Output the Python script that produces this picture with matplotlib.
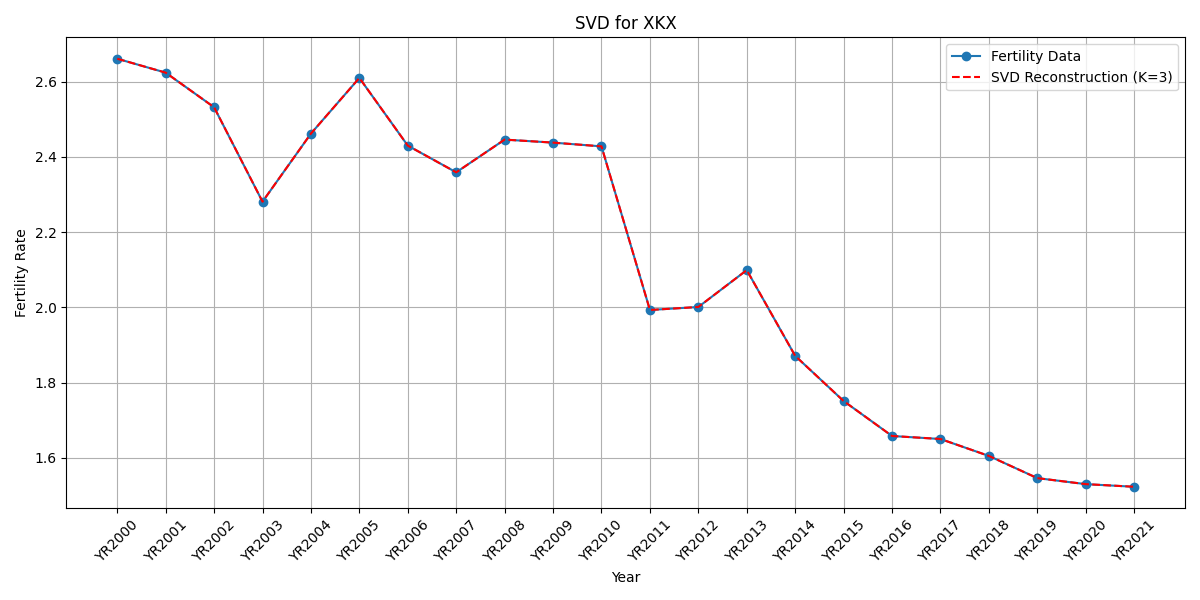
import matplotlib
matplotlib.use('Agg')
import matplotlib.pyplot as plt

years = [f"YR{y}" for y in range(2000, 2022)]
fertility = [2.661, 2.624, 2.532, 2.281, 2.462, 2.610, 2.430, 2.359, 2.446, 2.438, 2.428,
             1.993, 2.001, 2.099, 1.871, 1.751, 1.658, 1.650, 1.605, 1.546, 1.530, 1.523]
reconstruction = list(fertility)


def main():
    fig, ax = plt.subplots(figsize=(12, 6), dpi=100)
    ax.plot(years, fertility, marker='o', label='Fertility Data')
    ax.plot(years, reconstruction, 'r--', label='SVD Reconstruction (K=3)')
    ax.set_title('SVD for XKX')
    ax.set_xlabel('Year')
    ax.set_ylabel('Fertility Rate')
    ax.tick_params(axis='x', rotation=45)
    ax.grid(True)
    ax.legend()
    fig.tight_layout()
    fig.savefig('out.png')


if __name__ == '__main__':
    main()
